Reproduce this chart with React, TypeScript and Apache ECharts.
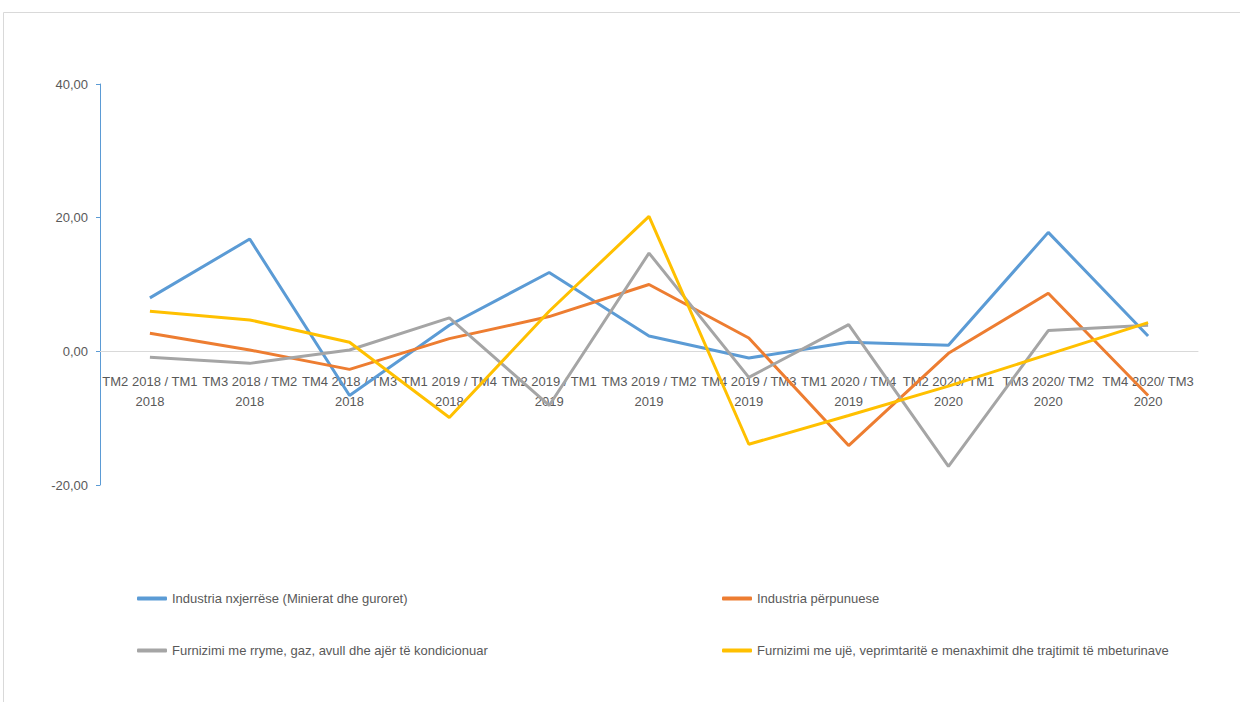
import React, { useEffect, useRef } from "react";
import * as echarts from "echarts";

const categories = [
  "TM2 2018 / TM1\n2018",
  "TM3 2018 / TM2\n2018",
  "TM4 2018 / TM3\n2018",
  "TM1 2019 / TM4\n2018",
  "TM2 2019 / TM1\n2019",
  "TM3 2019 / TM2\n2019",
  "TM4 2019 / TM3\n2019",
  "TM1 2020 / TM4\n2019",
  "TM2 2020/ TM1\n2020",
  "TM3 2020/ TM2\n2020",
  "TM4 2020/ TM3\n2020",
];

const seriesNames = [
  "Industria nxjerrëse (Minierat dhe guroret)",
  "Industria përpunuese",
  "Furnizimi me rryme, gaz, avull dhe ajër të kondicionuar",
  "Furnizimi me ujë, veprimtaritë e menaxhimit dhe trajtimit të mbeturinave",
];

const nxjerrese = [8.0, 16.8, -6.6, 3.9, 11.8, 2.3, -1.0, 1.35, 0.9, 17.8, 2.3];
const perpunuese = [2.7, 0.2, -2.7, 1.9, 5.2, 10.0, 2.0, -14.1, -0.3, 8.7, -6.6];
const rryme = [-0.9, -1.8, 0.2, 5.0, -8.1, 14.7, -3.9, 4.0, -17.2, 3.1, 3.9];
const uje = [6.0, 4.7, 1.35, -9.9, 6.0, 20.2, -13.9, -9.6, -5.2, -0.45, 4.3];

const colors = ["#5B9BD5", "#ED7D31", "#A5A5A5", "#FFC000"];

const FONT = "'Liberation Sans Narrow', 'Liberation Sans', sans-serif";

export default function App() {
  const ref = useRef<HTMLDivElement>(null);
  useEffect(() => {
    if (!ref.current) return;
    const chart = echarts.init(ref.current, null, { renderer: "svg" });
    const values = [nxjerrese, perpunuese, rryme, uje];
    const legendText = { color: "#595959", fontSize: 13, fontFamily: FONT };
    chart.setOption({
      animation: false,
      backgroundColor: "#ffffff",
      textStyle: { fontFamily: FONT },
      graphic: [
        {
          type: "rect",
          shape: { x: 3.5, y: 12.5, width: 1260, height: 700 },
          style: { fill: "none", stroke: "#D9D9D9", lineWidth: 1 },
          silent: true,
        },
      ],
      grid: { left: 100, right: 42, top: 84, bottom: 217, containLabel: false },
      legend: [
        {
          left: 132,
          top: 587,
          orient: "vertical",
          itemGap: 39,
          itemWidth: 30,
          itemHeight: 4,
          icon: "roundRect",
          data: [seriesNames[0], seriesNames[2]],
          textStyle: legendText,
        },
        {
          left: 717,
          top: 587,
          orient: "vertical",
          itemGap: 39,
          itemWidth: 30,
          itemHeight: 4,
          icon: "roundRect",
          data: [seriesNames[1], seriesNames[3]],
          textStyle: legendText,
        },
      ],
      xAxis: {
        type: "category",
        data: categories,
        boundaryGap: true,
        offset: -133.7,
        axisLine: { onZero: false, lineStyle: { color: "#D9D9D9", width: 1 } },
        axisTick: { show: false },
        axisLabel: {
          interval: 0,
          color: "#595959",
          fontSize: 13,
          lineHeight: 20,
          margin: 20,
          fontFamily: FONT,
        },
        splitLine: { show: false },
      },
      yAxis: {
        type: "value",
        min: -20,
        max: 40,
        interval: 20,
        axisLine: { show: true, lineStyle: { color: "#5B9BD5", width: 1 } },
        axisTick: { show: true, length: 4, lineStyle: { color: "#5B9BD5" } },
        axisLabel: {
          color: "#595959",
          fontSize: 13,
          margin: 12,
          fontFamily: FONT,
          formatter: (v: number) => v.toFixed(2).replace(".", ","),
        },
        splitLine: { show: false },
      },
      series: seriesNames.map((name, i) => ({
        name,
        type: "line",
        data: values[i],
        symbol: "none",
        lineStyle: { color: colors[i], width: 3 },
        itemStyle: { color: colors[i] },
        z: 2 + i,
      })),
    });
    return () => chart.dispose();
  }, []);
  return (
    <div
      ref={ref}
      style={{ position: "absolute", left: 0, top: 0, width: 1240, height: 702 }}
    />
  );
}
